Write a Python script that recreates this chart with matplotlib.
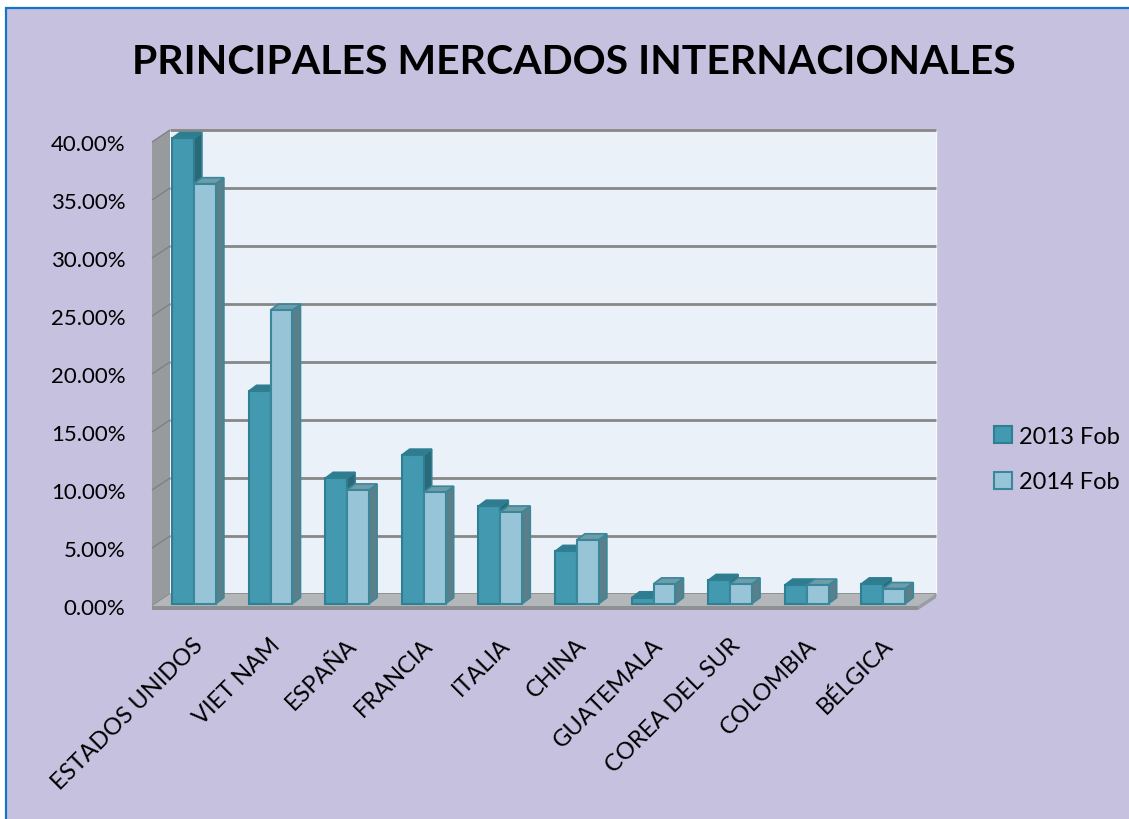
import matplotlib
matplotlib.use("Agg")
import matplotlib.pyplot as plt
from matplotlib.patches import Polygon, Rectangle, Patch
from matplotlib.transforms import IdentityTransform

plt.rcParams['font.family'] = ['Lato', 'DejaVu Sans']

# data (share of exports, %)
paises = ["ESTADOS UNIDOS", "VIET NAM", "ESPAÑA", "FRANCIA", "ITALIA", "CHINA",
          "GUATEMALA", "COREA DEL SUR", "COLOMBIA", "BÉLGICA"]
fob_2013 = [40.1, 18.3, 10.8, 12.8, 8.4, 4.5, 0.5, 2.0, 1.6, 1.7]
fob_2014 = [36.2, 25.3, 9.8, 9.6, 7.9, 5.5, 1.7, 1.7, 1.6, 1.3]
series = ["2013 Fob", "2014 Fob"]
y_ticks = [0, 5, 10, 15, 20, 25, 30, 35, 40]

W, H = 1129, 820
DX, DY = 18, 12      # depth of the 3d box (px)
BDX, BDY = 8, 6      # depth of each bar (px)
F = 0.2              # bars sit a little behind the front edge
BW = 0.287           # bar width in category units

front = ["#4399AF", "#97C5D7"]
side = ["#2B6878", "#5B7F89"]
top = ["#2F7C8F", "#6E9CA8"]
edge = ["#2F7F94", "#3A879B"]

fig = plt.figure(figsize=(W / 100, H / 100), dpi=100)
fig.patch.set_facecolor("white")
fig.patches.append(Rectangle((6 / W, -0.1), 1.2, (H - 9) / H + 0.1, transform=fig.transFigure,
                             facecolor="#C5C1DF", edgecolor="#1476C6", linewidth=1.6, zorder=-1))

ax = fig.add_axes([152 / W, (H - 607) / H, (918 - 152) / W, (607 - 143) / H])
ax.set_xlim(-0.5, 9.5)
ax.set_ylim(0, 40)
ax.patch.set_visible(False)
for s in ax.spines.values():
    s.set_visible(False)


def px(x, y, d=0.0, bx=0, by=0):
    p = ax.transData.transform((x, y))
    return (p[0] + d * DX + bx, p[1] + d * DY + by)


def poly(points, color, ec=None, lw=0.0, z=1):
    ax.add_patch(Polygon(points, closed=True, transform=IdentityTransform(),
                         facecolor=color, edgecolor=ec or color, linewidth=lw,
                         zorder=z, clip_on=False))


def line(p0, p1, color, lw, z):
    ax.plot([p0[0], p1[0]], [p0[1], p1[1]], color=color, lw=lw, zorder=z,
            transform=IdentityTransform(), clip_on=False, solid_capstyle="butt")


# walls and floor
poly([px(-0.5, 0, 1), px(9.5, 0, 1), px(9.5, 40, 1), px(-0.5, 40, 1)], "#EAF1F8", "#F7FAFC", 1.0, 1)
for v in y_ticks:
    line(px(-0.5, v, 1), px(9.5, v, 1), "#878787", 2.0, 2)
poly([px(-0.5, 0), px(-0.5, 0, 1), px(-0.5, 40, 1), px(-0.5, 40)], "#979B9D", None, 0, 3)
for v in y_ticks:
    line(px(-0.5, v), px(-0.5, v, 1), "#7E8284", 1.0, 3)
poly([px(-0.5, 0), px(9.5, 0), px(9.5, 0, 1), px(-0.5, 0, 1)], "#B3B7B9", None, 0, 4)
poly([px(-0.5, 0), px(9.5, 0), px(9.5, 0, 0, 0, -4), px(-0.5, 0, 0, 0, -4)], "#8E9193", None, 0, 4)
poly([px(9.5, 0), px(9.5, 0, 1), px(9.5, 0, 1, 0, -4), px(9.5, 0, 0, 0, -4)], "#9A9DA0", None, 0, 4)

# bars, left to right so later fronts cover earlier sides
z = 5
for i in range(len(paises)):
    for k, vals in enumerate([fob_2013, fob_2014]):
        v = vals[i]
        x0 = i - BW + k * BW
        x1 = x0 + BW
        poly([px(x1, 0, F), px(x1, 0, F, BDX, BDY), px(x1, v, F, BDX, BDY), px(x1, v, F)],
             side[k], edge[k], 1.2, z)
        poly([px(x0, v, F), px(x1, v, F), px(x1, v, F, BDX, BDY), px(x0, v, F, BDX, BDY)],
             top[k], edge[k], 1.2, z)
        poly([px(x0, 0, F), px(x1, 0, F), px(x1, v, F), px(x0, v, F)],
             front[k], edge[k], 1.5, z + 0.5)
        z += 1

ax.set_yticks(y_ticks)
ax.set_yticklabels([f"{v:.2f}%" for v in y_ticks], fontsize=16)
ax.set_xticks([i + 0.03 for i in range(len(paises))])
ax.set_xticklabels(paises, fontsize=17, rotation=45, ha="right", va="top", rotation_mode="anchor")
ax.tick_params(axis="y", length=0, pad=19)
ax.tick_params(axis="x", length=0, pad=20)

handles = [Patch(facecolor=front[k], edgecolor=edge[k], linewidth=1.5) for k in range(2)]
fig.legend(handles, series, loc="center left", bbox_to_anchor=(973 / W, 1 - 460 / H),
           frameon=False, fontsize=17, handlelength=0.75, handleheight=0.75,
           handletextpad=0.3, labelspacing=1.05)

fig.text(574 / W, 1 - 62 / H, "PRINCIPALES MERCADOS INTERNACIONALES", ha="center", va="center",
         fontsize=29.5, fontweight="bold")

fig.savefig("out.png", dpi=100)
